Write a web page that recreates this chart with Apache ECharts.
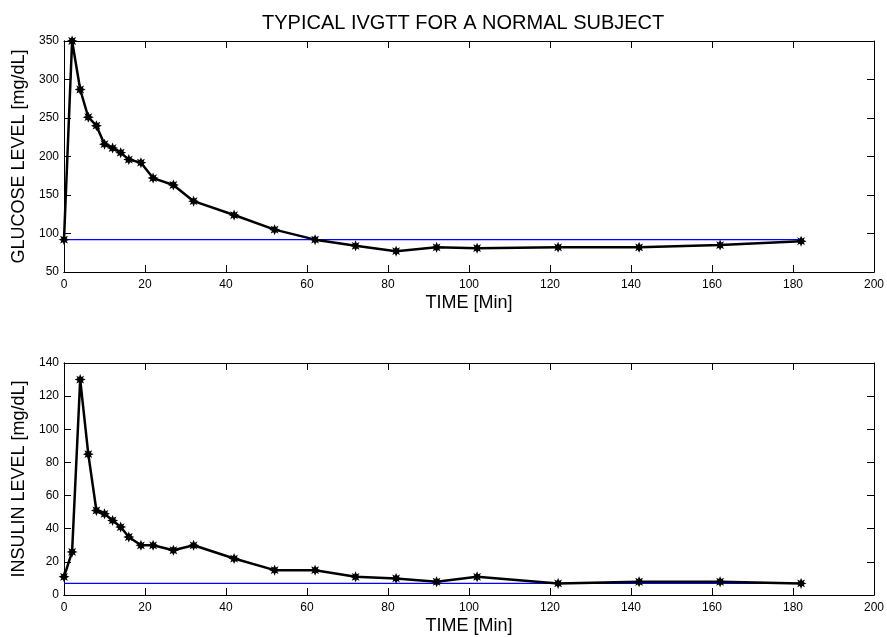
<!DOCTYPE html>
<html>
<head>
<meta charset="utf-8">
<script src="https://cdn.jsdelivr.net/npm/echarts@6/dist/echarts.min.js"></script>
<style>
html,body{margin:0;padding:0;background:#fff;}
#chart{width:887px;height:637px;}
</style>
</head>
<body>
<div id="chart"></div>
<script>
// ---- data ----
var timeMin = [0, 2, 4, 6, 8, 10, 12, 14, 16, 19, 22, 27, 32, 42, 52, 62, 72, 82, 92, 102, 122, 142, 162, 182];
var glucose = [92, 350, 287, 251, 240, 216, 211, 205, 196, 192, 172, 163, 142, 124, 105, 92, 84, 77, 82, 81, 82, 82, 85, 90];
var insulin = [11, 26, 130, 85, 51, 49, 45, 41, 35, 30, 30, 27, 30, 22, 15, 15, 11, 10, 8, 11, 7, 8, 8, 7];
var baselineTimes = [0, 182];
var glucoseBasal = 92;
var insulinBasal = 7;
var titleText = 'TYPICAL IVGTT FOR A NORMAL SUBJECT';
var xName = 'TIME [Min]';
var glucoseName = 'GLUCOSE LEVEL [mg/dL]';
var insulinName = 'INSULIN LEVEL [mg/dL]';

function pairs(xs, ys) { return xs.map(function (x, i) { return [x, ys[i]]; }); }
function flat(xs, v) { return xs.map(function (x) { return [x, v]; }); }

var FONT = 'Liberation Sans, Arial, sans-serif';
var starPath = 'path://M20,10L14.8,12.2L17.07,17.07L12.2,14.8L10,20L7.8,14.8L2.93,17.07L5.2,12.2L0,10L5.2,7.8L2.93,2.93L7.8,5.2L10,0L12.2,5.2L17.07,2.93L14.8,7.8Z';
var TICK = { show: true, inside: true, length: 7, lineStyle: { color: '#000', width: 1 } };
var LINE = { show: true, onZero: false, lineStyle: { color: '#000', width: 1 } };

function xLabelled(gridIndex) {
  return {
    type: 'value', gridIndex: gridIndex, position: 'bottom',
    min: 0, max: 200, interval: 20,
    name: xName, nameLocation: 'middle', nameGap: 22,
    nameTextStyle: { fontFamily: FONT, fontSize: 18, color: '#000' },
    axisLine: LINE, axisTick: { show: false },
    axisLabel: { fontFamily: FONT, fontSize: 12, color: '#000', margin: 7 },
    splitLine: { show: false }
  };
}
function xTicks(gridIndex, pos) {
  return {
    type: 'value', gridIndex: gridIndex, position: pos,
    min: 0, max: 200, interval: 20,
    axisLine: LINE, axisTick: TICK, axisLabel: { show: false },
    splitLine: { show: false }
  };
}
function yLabelled(gridIndex, name, min, max, interval) {
  return {
    type: 'value', gridIndex: gridIndex, position: 'left',
    min: min, max: max, interval: interval,
    name: name, nameLocation: 'middle', nameGap: 29, nameRotate: 90,
    nameTextStyle: { fontFamily: FONT, fontSize: 18, color: '#000' },
    axisLine: LINE, axisTick: { show: false },
    axisLabel: { fontFamily: FONT, fontSize: 12, color: '#000', margin: 5 },
    splitLine: { show: false }
  };
}
function yTicks(gridIndex, pos, min, max, interval) {
  return {
    type: 'value', gridIndex: gridIndex, position: pos,
    min: min, max: max, interval: interval,
    axisLine: LINE, axisTick: TICK, axisLabel: { show: false },
    splitLine: { show: false }
  };
}

var chart = echarts.init(document.getElementById('chart'), null, { renderer: 'canvas' });
chart.setOption({
  backgroundColor: '#fff',
  animation: false,
  title: {
    text: titleText, left: 257, top: 8,
    textStyle: { fontFamily: FONT, fontSize: 20, fontWeight: 'normal', color: '#000' }
  },
  grid: [
    { left: 64, right: 12, top: 41, height: 231 },
    { left: 64, right: 12, top: 363, height: 232 }
  ],
  xAxis: [
    xLabelled(0), xTicks(0, 'top'), xTicks(0, 'bottom'),
    xLabelled(1), xTicks(1, 'top'), xTicks(1, 'bottom')
  ],
  yAxis: [
    yLabelled(0, glucoseName, 50, 350, 50), yTicks(0, 'right', 50, 350, 50), yTicks(0, 'left', 50, 350, 50),
    yLabelled(1, insulinName, 0, 140, 20), yTicks(1, 'right', 0, 140, 20), yTicks(1, 'left', 0, 140, 20)
  ],
  series: [
    {
      type: 'line', xAxisIndex: 0, yAxisIndex: 0, data: flat(baselineTimes, glucoseBasal),
      symbol: 'none', lineStyle: { color: '#0000ff', width: 1.3 }, z: 2
    },
    {
      type: 'line', xAxisIndex: 0, yAxisIndex: 0, data: pairs(timeMin, glucose),
      symbol: starPath, symbolSize: 11, showAllSymbol: true,
      lineStyle: { color: '#000', width: 2.5 }, itemStyle: { color: '#000' }, z: 3
    },
    {
      type: 'line', xAxisIndex: 3, yAxisIndex: 3, data: flat(baselineTimes, insulinBasal),
      symbol: 'none', lineStyle: { color: '#0000ff', width: 1.3 }, z: 2
    },
    {
      type: 'line', xAxisIndex: 3, yAxisIndex: 3, data: pairs(timeMin, insulin),
      symbol: starPath, symbolSize: 11, showAllSymbol: true,
      lineStyle: { color: '#000', width: 2.5 }, itemStyle: { color: '#000' }, z: 3
    }
  ]
});
</script>
</body>
</html>
